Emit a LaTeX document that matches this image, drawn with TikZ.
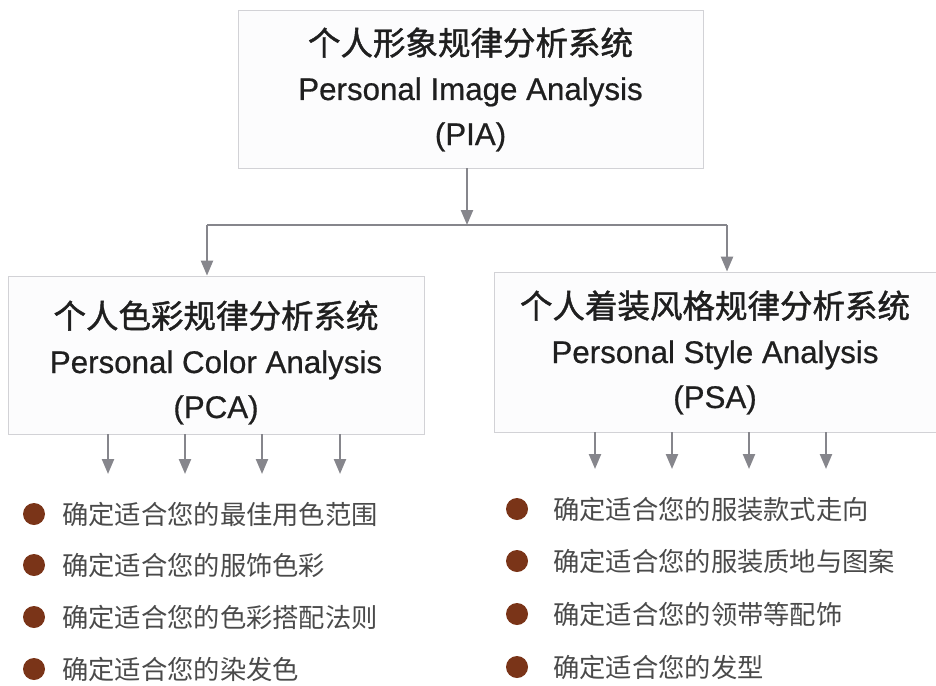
\documentclass[tikz,border=0pt]{standalone}
\usepackage{fontspec}
\setmainfont{Liberation Sans}[FakeBold=0.6]
\newfontfamily\cjk{Noto Sans CJK SC}
\newfontfamily\cjkhead{Noto Sans CJK SC}[FakeBold=1.3]
\usetikzlibrary{arrows.meta}
\definecolor{boxline}{HTML}{D2D2D6}
\definecolor{boxfill}{HTML}{FCFCFD}
\definecolor{arrowgray}{HTML}{86868C}
\definecolor{bulletbrown}{HTML}{7A3418}
\definecolor{itemtext}{HTML}{4A4A4A}
\newcommand{\headtext}[4][0pt]{\raisebox{#1}[\height][\depth]{\begin{tabular}{@{}c@{}}{\cjkhead\fontsize{32.5}{45}\selectfont #2}\\#3\\#4\end{tabular}}}
\tikzset{
  headbox/.style={draw=boxline, fill=boxfill, line width=0.8pt, inner sep=0pt, text=black!88, align=center,
     font=\fontsize{31.3}{45}\selectfont},
  conn/.style={draw=arrowgray, line width=2.3pt},
  arr/.style={conn, -{Triangle[length=15pt,width=12pt]}},
  dot/.style={circle, fill=bulletbrown, inner sep=0pt, minimum size=22pt},
  item/.style={anchor=west, inner sep=0pt, text=itemtext, font=\cjk\fontsize{26.3}{30}\selectfont}
}
\begin{document}
\begin{tikzpicture}[x=1pt,y=-1pt]
\useasboundingbox (0,0) rectangle (936,685);
% boxes
\node[headbox, minimum width=465pt, minimum height=158pt] (pia) at (470.5,89)
  {\headtext[-2pt]{个人形象规律分析系统}{Personal Image Analysis}{(PIA)}};
\node[headbox, minimum width=416pt, minimum height=158pt] (pca) at (216,355)
  {\headtext[-9pt]{个人色彩规律分析系统}{Personal Color Analysis}{(PCA)}};
\node[headbox, minimum width=442pt, minimum height=160pt] (psa) at (715,352)
  {\headtext[-2pt]{个人着装风格规律分析系统}{Personal Style Analysis}{(PSA)}};
% connectors top
\coordinate (jc) at (467,225);
\coordinate (jl) at (207,225);
\coordinate (jr) at (727,225);
\draw[arr] (pia.south -| jc) -- (jc);
\draw[conn] (jl) -- (jr);
\draw[arr] (jl) -- (jl |- pca.north);
\draw[arr] (jr) -- (jr |- psa.north);
% arrows below boxes
\foreach \i/\x in {1/108,2/185,3/262,4/340}{
  \coordinate (pe\i) at (\x,474);
  \draw[arr] (pe\i |- pca.south) -- (pe\i);
}
\foreach \i/\x in {1/595,2/672,3/749,4/826}{
  \coordinate (se\i) at (\x,469);
  \draw[arr] (se\i |- psa.south) -- (se\i);
}
% left items
\foreach \i/\y/\t in {1/514/确定适合您的最佳用色范围, 2/565/确定适合您的服饰色彩, 3/617/确定适合您的色彩搭配法则, 4/669/确定适合您的染发色}{
  \node[dot] (ld\i) at (34,\y) {};
  \node[item] (lt\i) at (62,\y) {\t};
}
% right items
\foreach \i/\y/\t in {1/509/确定适合您的服装款式走向, 2/561/确定适合您的服装质地与图案, 3/614/确定适合您的领带等配饰, 4/667/确定适合您的发型}{
  \node[dot] (rd\i) at (517,\y) {};
  \node[item] (rt\i) at (553,\y) {\t};
}
\end{tikzpicture}
\end{document}
